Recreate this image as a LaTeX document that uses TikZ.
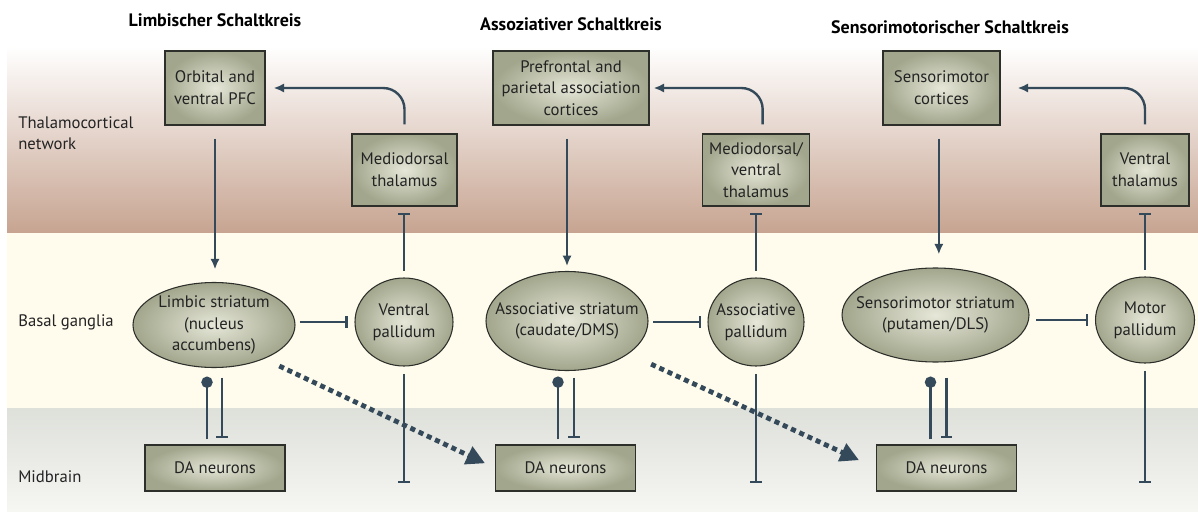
\documentclass[tikz,border=0pt]{standalone}
\usepackage{fontspec}
\setmainfont{PT Sans}
\usetikzlibrary{shapes.geometric,arrows.meta}
\definecolor{linec}{RGB}{52,74,90}
\definecolor{boxin}{RGB}{230,231,216}
\definecolor{boxout}{RGB}{162,166,140}
\definecolor{boxline}{RGB}{45,47,42}
\definecolor{textc}{RGB}{35,35,35}
\definecolor{brownB}{RGB}{199,164,145}
\definecolor{brownM}{RGB}{226,202,189}
\definecolor{creamc}{RGB}{255,252,237}
\definecolor{grayT}{RGB}{222,224,218}
\definecolor{grayB}{RGB}{246,246,243}
\newcommand{\nodefont}{\fontsize{12.5}{16.3}\selectfont}
\begin{document}
\begin{tikzpicture}[x=0.75pt,y=-0.75pt,
  box/.style={draw=boxline, line width=0.8pt, inner color=boxin, outer color=boxout,
    align=center, font=\nodefont, text=textc, inner sep=0pt},
  ell/.style={box, ellipse},
  lbl/.style={align=center, font=\nodefont, text=textc, inner sep=0pt},
  ttl/.style={font=\fontsize{13.5}{16}\selectfont\bfseries, text=black, inner sep=0pt},
  side/.style={align=left, font=\fontsize{12.5}{16}\selectfont, text=textc, inner sep=0pt, anchor=west},
  conn/.style={draw=linec, line width=1.8pt},
  arr/.style={conn, -{Latex[length=8pt,width=7pt]}},
  inh/.style={conn, -{Bar[width=8.5pt,line width=1.8pt]}},
  dotend/.style={conn, -{Circle[length=8.5pt]}},
  dotarr/.style={draw=linec, line width=3.6pt, dash pattern=on 3.8pt off 3pt,
    -{Triangle[length=14pt,width=14pt]}},
]
\useasboundingbox (0,0) rectangle (1198,513);
% background bands
\fill[white] (0,0) rectangle (1198,513);
\shade[top color=white, middle color=brownM, bottom color=brownB] (7,46) rectangle (1198,233);
\fill[creamc] (7,233) rectangle (1198,408);
\shade[top color=grayT, bottom color=grayB] (7,408) rectangle (1198,511);

% titles
\node[ttl] (t1) at (215,20) {Limbischer Schaltkreis};
\node[ttl] (t2) at (571,24) {Assoziativer Schaltkreis};
\node[ttl] (t3) at (950,27) {Sensorimotorischer Schaltkreis};

% side labels
\node[side] (s1) at (18,133) {Thalamocortical\\network};
\node[side] (s2) at (18,322) {Basal ganglia};
\node[side] (s3) at (18,477) {Midbrain};

% thalamocortical boxes
\node[box, minimum width=75pt, minimum height=55.5pt] (orb) at (215,88) {Orbital and\\ventral PFC};
\node[box, minimum width=78.75pt, minimum height=54pt] (mdt) at (404.5,170) {Mediodorsal\\thalamus};
\node[box, minimum width=117pt, minimum height=55.5pt] (pfc) at (571,88) {Prefrontal and\\parietal association\\cortices};
\node[box, minimum width=80pt, minimum height=54pt] (mdvt) at (756,170) {Mediodorsal/\\ventral\\thalamus};
\node[box, minimum width=87.75pt, minimum height=55.5pt] (smc) at (941.5,88) {Sensorimotor\\cortices};
\node[box, minimum width=66pt, minimum height=54pt] (vt) at (1145,170) {Ventral\\thalamus};

% basal ganglia ellipses
\node[ell, minimum width=121.5pt, minimum height=63.75pt,
  label={[lbl]center:Limbic striatum\\(nucleus\\accumbens)}] (lst) at (214,325) {};
\node[ell, minimum width=73.5pt, minimum height=66pt,
  label={[lbl]center:Ventral\\pallidum}] (vp) at (404,322) {};
\node[ell, minimum width=121.5pt, minimum height=74.25pt,
  label={[lbl]center:Associative striatum\\(caudate/DMS)}] (ast) at (567,321) {};
\node[ell, minimum width=72pt, minimum height=66pt,
  label={[lbl]center:Associative\\pallidum}] (ap) at (756,322) {};
\node[ell, minimum width=140.25pt, minimum height=70.5pt,
  label={[lbl]center:Sensorimotor striatum\\(putamen/DLS)}] (sst) at (935.5,315) {};
\node[ell, minimum width=74.25pt, minimum height=64.5pt,
  label={[lbl]center:Motor\\pallidum}] (mp) at (1145,320) {};

% midbrain boxes
\node[box, minimum width=105pt, minimum height=34.5pt] (da1) at (215,468) {DA neurons};
\node[box, minimum width=105pt, minimum height=34.5pt] (da2) at (565.5,468) {DA neurons};
\node[box, minimum width=105pt, minimum height=34.5pt] (da3) at (946.5,468) {DA neurons};

\coordinate (bot) at (0,483);

% cortex -> striatum
\draw[arr, shorten <=9.75pt, shorten >=9.4pt] (orb.south) -- (orb.south |- lst.north);
\draw[arr, shorten <=9.75pt, shorten >=3.6pt] (ast.north |- pfc.south) -- (ast.north);
\draw[arr, shorten <=9.75pt, shorten >=9.75pt] ([xshift=-2pt]smc.south) -- ([xshift=-2pt]smc.south |- sst.north);

% thalamus -> cortex
\draw[arr, rounded corners=16pt, shorten <=6.75pt, shorten >=6pt] (mdt.north) -- (mdt.north |- orb.east) -- (orb.east);
\draw[arr, rounded corners=16pt, shorten <=6.75pt, shorten >=3pt] ([xshift=5pt]mdvt.north) -- ([xshift=5pt]mdvt.north |- pfc.east) -- (pfc.east);
\draw[arr, rounded corners=16pt, shorten <=6.75pt, shorten >=12.75pt] (vt.north) -- (vt.north |- smc.east) -- (smc.east);

% pallidum -| thalamus
\draw[inh, shorten <=5pt, shorten >=4.5pt] (vp.north) -- (vp.north |- mdt.south);
\draw[inh, shorten <=5pt, shorten >=4.5pt] (ap.north) -- (ap.north |- mdvt.south);
\draw[inh, shorten <=5pt, shorten >=4.5pt] (mp.north) -- (mp.north |- vt.south);

% striatum -| pallidum
\draw[inh, shorten <=3pt, shorten >=5pt] (lst.east |- vp.west) -- (vp.west);
\draw[inh, shorten <=3.5pt, shorten >=4.5pt] (ast.east |- ap.west) -- (ap.west);
\draw[inh, shorten <=5pt, shorten >=5pt] (sst.east |- mp.west) -- (mp.west);

% pallidum -| down
\draw[inh, shorten <=5.5pt] (vp.south) -- (vp.south |- bot);
\draw[inh, shorten <=5.5pt] (ap.south) -- (ap.south |- bot);
\draw[inh, shorten <=5.5pt] (mp.south) -- (mp.south |- bot);

% DA <-> striatum
\draw[dotend, shorten <=3.75pt, shorten >=6.4pt] ([xshift=-5.25pt]lst.south |- da1.north) -- ([xshift=-5.25pt]lst.south);
\draw[inh, shorten <=7.1pt, shorten >=4.5pt] ([xshift=6pt]lst.south) -- ([xshift=6pt]lst.south |- da1.north);
\draw[dotend, shorten <=3.75pt, shorten >=4.1pt] ([xshift=-6.75pt]ast.south |- da2.north) -- ([xshift=-6.75pt]ast.south);
\draw[inh, shorten <=4.9pt, shorten >=4.5pt] ([xshift=5.25pt]ast.south) -- ([xshift=5.25pt]ast.south |- da2.north);
\draw[dotend, shorten <=3.75pt, shorten >=10.5pt] ([xshift=-3.75pt]sst.south |- da3.north) -- ([xshift=-3.75pt]sst.south);
\draw[inh, shorten <=11.25pt, shorten >=4.5pt] ([xshift=8.25pt]sst.south) -- ([xshift=8.25pt]sst.south |- da3.north);

% dotted arrows
\draw[dotarr, shorten <=12.5pt, shorten >=8.25pt] (lst.-34) -- (da2.west);
\draw[dotarr, shorten <=18.6pt, shorten >=14pt] (ast.-28) -- (da3.west);
\end{tikzpicture}
\end{document}
